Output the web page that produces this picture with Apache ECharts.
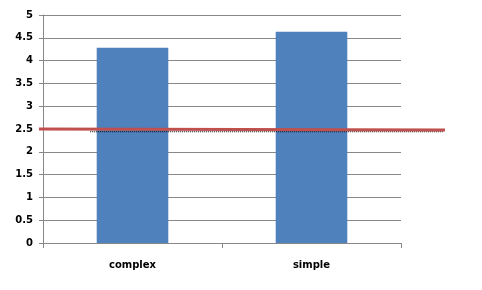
<!DOCTYPE html>
<html><head><meta charset="utf-8">
<script src="https://cdn.jsdelivr.net/npm/echarts@6/dist/echarts.min.js"></script>
<style>html,body{margin:0;padding:0;background:#fff}#c{width:482px;height:290px}</style>
</head><body><div id="c"></div>
<script>
const categories = ['complex', 'simple'];
const barValues = [4.28, 4.63];
const refLineX = [0, 1];
const refLineY = [2.5, 2.48];
const dotLineX = [0.126, 0.995];
const dotLineY = [2.44, 2.44];

const chart = echarts.init(document.getElementById('c'));
const lbl = {color:'#000', fontFamily:'DejaVu Sans', fontWeight:'bold', fontSize:10};
chart.setOption({
  animation:false,
  grid:[
    {left:43, right:81, top:15, bottom:47},
    {left:39, right:37, top:15, bottom:47}
  ],
  xAxis:[
    {type:'category', data:categories, gridIndex:0,
     axisLine:{lineStyle:{color:'#888'}}, axisTick:{show:true, length:5, lineStyle:{color:'#888'}},
     axisLabel:Object.assign({margin:17}, lbl)},
    {type:'value', gridIndex:1, min:0, max:1, show:false}
  ],
  yAxis:[
    {type:'value', gridIndex:0, min:0, max:5, interval:0.5,
     axisLine:{show:true, lineStyle:{color:'#888'}}, axisTick:{show:true, length:4, lineStyle:{color:'#888'}},
     splitLine:{lineStyle:{color:'#888'}},
     axisLabel:Object.assign({margin:10}, lbl)},
    {type:'value', gridIndex:1, min:0, max:5, show:false}
  ],
  series:[
    {type:'bar', data:barValues, xAxisIndex:0, yAxisIndex:0, barWidth:'40%', itemStyle:{color:'#4F81BD'}},
    {type:'line', xAxisIndex:1, yAxisIndex:1, data:dotLineX.map((x,i)=>[x,dotLineY[i]]), symbol:'none',
     lineStyle:{color:'#000', width:1, type:[1,1]}},
    {type:'line', xAxisIndex:1, yAxisIndex:1, data:refLineX.map((x,i)=>[x,refLineY[i]]), symbol:'none',
     lineStyle:{color:'#C0504D', width:3}}
  ]
});
</script></body></html>
